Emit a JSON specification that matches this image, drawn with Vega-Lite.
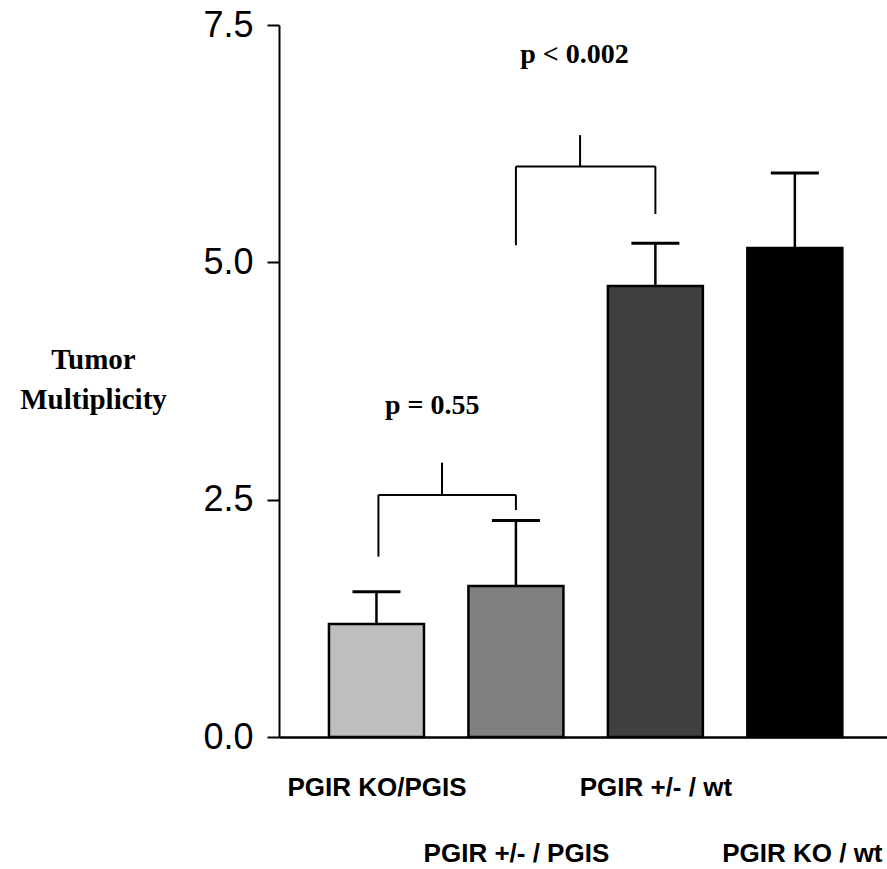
{
  "$schema": "https://vega.github.io/schema/vega-lite/v6.json",
  "width": 608,
  "height": 712,
  "autosize": "none",
  "padding": {"left": 279, "top": 25, "right": 0, "bottom": 132},
  "background": "white",
  "config": {"view": {"stroke": null}},
  "datasets": {
    "bars": [
      {"group": "PGIR KO/PGIS", "idx": 1, "mean": 1.19, "upper": 1.53},
      {"group": "PGIR +/- / PGIS", "idx": 2, "mean": 1.59, "upper": 2.28},
      {"group": "PGIR +/- / wt", "idx": 3, "mean": 4.75, "upper": 5.20},
      {"group": "PGIR KO / wt", "idx": 4, "mean": 5.15, "upper": 5.94}
    ],
    "brackets": [
      {"x": 1.014, "y": 1.90, "x2": 1.014, "y2": 2.55},
      {"x": 1.014, "y": 2.55, "x2": 2.0, "y2": 2.55},
      {"x": 2.0, "y": 2.55, "x2": 2.0, "y2": 2.39},
      {"x": 1.47, "y": 2.55, "x2": 1.47, "y2": 2.89},
      {"x": 2.0, "y": 5.18, "x2": 2.0, "y2": 6.01},
      {"x": 2.0, "y": 6.01, "x2": 3.0, "y2": 6.01},
      {"x": 3.0, "y": 6.01, "x2": 3.0, "y2": 5.51},
      {"x": 2.46, "y": 6.01, "x2": 2.46, "y2": 6.34}
    ],
    "pvals": [
      {"label": "p = 0.55", "x": 1.40, "y": 3.49},
      {"label": "p < 0.002", "x": 2.42, "y": 7.18}
    ]
  },
  "layer": [
    {
      "data": {"name": "bars"},
      "mark": {"type": "bar", "orient": "vertical", "width": 95, "stroke": "black", "strokeWidth": 2.5},
      "encoding": {
        "x": {
          "field": "idx", "type": "quantitative",
          "scale": {"domain": [0.337, 4.625], "nice": false, "zero": false},
          "axis": {
            "title": null,
            "values": [1, 2, 3, 4],
            "labelExpr": "['', 'PGIR KO/PGIS', 'PGIR +/- / PGIS', 'PGIR +/- / wt', 'PGIR KO / wt'][datum.value]",
            "ticks": false,
            "grid": false,
            "domainColor": "black",
            "domainWidth": 2.5,
            "labelFont": "Liberation Sans Narrow, Arial Narrow, Liberation Sans, sans-serif",
            "labelFontWeight": "bold",
            "labelFontSize": 26,
            "labelColor": "black",
            "labelBaseline": "alphabetic",
            "labelFlush": false,
            "labelOverlap": false,
            "labelLimit": 0,
            "labelPadding": {"condition": {"test": "datum.value == 2 || datum.value == 4", "value": 124}, "value": 58},
            "labelOffset": {"condition": {"test": "datum.value == 4", "value": 7}, "value": 0}
          }
        },
        "y": {
          "field": "mean", "type": "quantitative",
          "scale": {"domain": [0, 7.5], "nice": false},
          "axis": {
            "values": [0, 2.5, 5, 7.5],
            "format": ".1f",
            "grid": false,
            "tickSize": 12,
            "tickWidth": 2,
            "tickColor": "black",
            "domainColor": "black",
            "domainWidth": 2,
            "labelFont": "Liberation Sans Narrow, Arial Narrow, Liberation Sans, sans-serif",
            "labelFontSize": 36,
            "labelColor": "black",
            "labelPadding": 14,
            "labelFlush": false,
            "title": ["Tumor", "Multiplicity"],
            "titleAngle": 0,
            "titleFont": "Liberation Serif, Times New Roman, serif",
            "titleFontWeight": "bold",
            "titleFontSize": 29,
            "titleColor": "black",
            "titleAlign": "center",
            "titleBaseline": "middle",
            "titleLineHeight": 40,
            "titleX": -186,
            "titleY": 334
          }
        },
        "color": {
          "field": "group", "type": "nominal",
          "scale": {"domain": ["PGIR KO/PGIS", "PGIR +/- / PGIS", "PGIR +/- / wt", "PGIR KO / wt"], "range": ["#bebebe", "#808080", "#404040", "#000000"]},
          "legend": null
        }
      }
    },
    {
      "data": {"name": "bars"},
      "mark": {"type": "rule", "color": "black", "strokeWidth": 2.5},
      "encoding": {
        "x": {"field": "idx", "type": "quantitative"},
        "y": {"field": "mean", "type": "quantitative"},
        "y2": {"field": "upper"}
      }
    },
    {
      "data": {"name": "bars"},
      "mark": {"type": "tick", "orient": "horizontal", "color": "black", "size": 48, "thickness": 3, "opacity": 1},
      "encoding": {
        "x": {"field": "idx", "type": "quantitative"},
        "y": {"field": "upper", "type": "quantitative"}
      }
    },
    {
      "data": {"name": "brackets"},
      "mark": {"type": "rule", "color": "black", "strokeWidth": 2},
      "encoding": {
        "x": {"field": "x", "type": "quantitative"},
        "y": {"field": "y", "type": "quantitative"},
        "x2": {"field": "x2"},
        "y2": {"field": "y2"}
      }
    },
    {
      "data": {"name": "pvals"},
      "mark": {"type": "text", "font": "Liberation Serif, Times New Roman, serif", "fontWeight": "bold", "fontSize": 28, "color": "black", "align": "center", "baseline": "middle"},
      "encoding": {
        "x": {"field": "x", "type": "quantitative"},
        "y": {"field": "y", "type": "quantitative"},
        "text": {"field": "label"}
      }
    }
  ]
}
